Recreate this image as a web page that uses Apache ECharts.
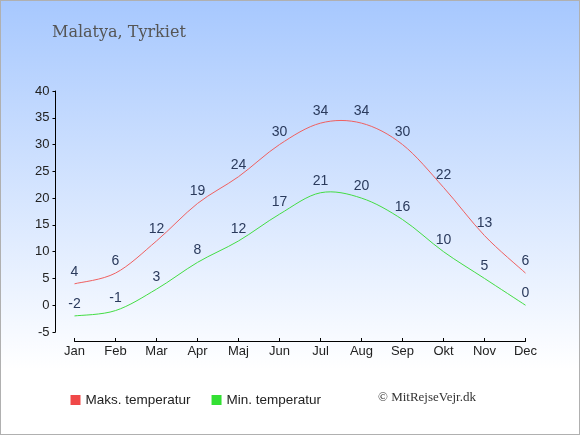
<!DOCTYPE html>
<html>
<head>
<meta charset="utf-8">
<script src="https://cdn.jsdelivr.net/npm/echarts@6/dist/echarts.min.js"></script>
<style>
html,body{margin:0;padding:0;}
#c{width:580px;height:435px;box-sizing:border-box;border:1px solid #b0b0b0;}
</style>
</head>
<body>
<div id="c"></div>
<script>
var months = ['Jan','Feb','Mar','Apr','Maj','Jun','Jul','Aug','Sep','Okt','Nov','Dec'];
var maxTemp = [4,6,12,19,24,30,34,34,30,22,13,6];
var minTemp = [-2,-1,3,8,12,17,21,20,16,10,5,0];
var yTicks = {min:-5, max:40, interval:5};

function splineSeries(arr, color) {
  return {
    type:'custom', silent:true, z:3,
    data: arr.map(function(v,i){return [i,v];}),
    encode:{x:0,y:1},
    renderItem:function(params, api){
      var i = params.dataIndex, n = arr.length;
      if (i >= n-1) return {type:'group',children:[]};
      var idx = function(k){k=Math.max(0,Math.min(n-1,k));return api.coord([k,arr[k]]);};
      var p0=idx(i-1), p1=idx(i), p2=idx(i+1), p3=idx(i+2);
      var c1=[p1[0]+(p2[0]-p0[0])/6, p1[1]+(p2[1]-p0[1])/6];
      var c2=[p2[0]-(p3[0]-p1[0])/6, p2[1]-(p3[1]-p1[1])/6];
      return {type:'bezierCurve',
        shape:{x1:p1[0],y1:p1[1],cpx1:c1[0],cpy1:c1[1],cpx2:c2[0],cpy2:c2[1],x2:p2[0],y2:p2[1]},
        style:{stroke:color,fill:null,lineWidth:1}};
    }
  };
}

var labelStyle = {show:true,position:'top',distance:5,color:'#2a3a5c',fontFamily:'Liberation Sans',fontSize:14};

var chart = echarts.init(document.getElementById('c'));
chart.setOption({
  animation:false,
  backgroundColor:{type:'linear',x:0,y:0,x2:0,y2:1,colorStops:[
    {offset:0,color:'#a7c8fe'},{offset:0.85,color:'#ffffff'},{offset:1,color:'#ffffff'}]},
  title:{text:'Malatya, Tyrkiet',left:46,top:19,
    textStyle:{fontFamily:'DejaVu Serif',fontWeight:'normal',fontSize:16,color:'#555555'}},
  grid:{left:73.5,right:53.5,top:90,bottom:102,containLabel:false},
  legend:{left:69.5,top:392,padding:0,icon:'rect',itemWidth:10,itemHeight:10,itemGap:21,
    textStyle:{fontFamily:'Liberation Sans',fontSize:13.5,color:'#222'},
    data:['Maks. temperatur','Min. temperatur']},
  graphic:[{type:'text',left:377,top:390,
    style:{text:'© MitRejseVejr.dk',font:'13px "Liberation Serif"',fill:'#333'}}],
  xAxis:{type:'category',data:months,boundaryGap:false,offset:9,
    axisLine:{onZero:false,lineStyle:{color:'#000',width:1}},
    axisTick:{inside:true,length:3,lineStyle:{color:'#000'}},
    axisLabel:{color:'#222',fontFamily:'Liberation Sans',fontSize:13,margin:4},
    splitLine:{show:false}},
  yAxis:{type:'value',min:yTicks.min,max:yTicks.max,interval:yTicks.interval,offset:19,
    axisLine:{show:true,lineStyle:{color:'#000',width:1}},
    axisTick:{show:true,length:3,lineStyle:{color:'#000'}},
    axisLabel:{color:'#222',fontFamily:'Liberation Sans',fontSize:13,margin:6},
    splitLine:{show:false}},
  series:[
    {name:'Maks. temperatur',type:'line',data:maxTemp,symbol:'circle',symbolSize:0,showSymbol:true,
     itemStyle:{color:'#f04848'},lineStyle:{width:0,opacity:0},label:labelStyle},
    {name:'Min. temperatur',type:'line',data:minTemp,symbol:'circle',symbolSize:0,showSymbol:true,
     itemStyle:{color:'#33e033'},lineStyle:{width:0,opacity:0},label:labelStyle},
    splineSeries(maxTemp,'#f06060'),
    splineSeries(minTemp,'#44dd44')
  ]
});
</script>
</body>
</html>
